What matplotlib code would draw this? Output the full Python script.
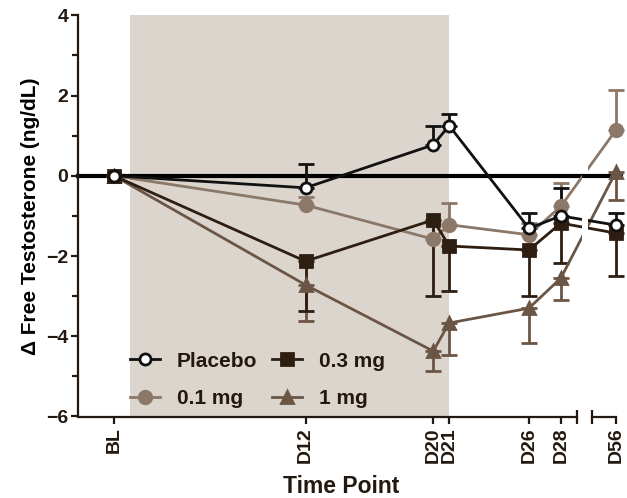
import numpy as np
import matplotlib
matplotlib.use('Agg')
import matplotlib.pyplot as plt
from matplotlib.lines import Line2D

plt.rcParams['font.family'] = ['Liberation Sans', 'DejaVu Sans']
plt.rcParams['font.weight'] = 'bold'
ink = '#22180f'
plt.rcParams['text.color'] = ink
plt.rcParams['axes.edgecolor'] = ink
plt.rcParams['xtick.color'] = ink
plt.rcParams['ytick.color'] = ink

# time points (days) and labels
days = [0, 12, 20, 21, 26, 28, 56]
tick_labels = ['BL', 'D12', 'D20', 'D21', 'D26', 'D28', 'D56']

# mean change from baseline and SEM (one-sided bars as in the original)
placebo = [0, -0.30, 0.77, 1.25, -1.31, -1.00, -1.23]
placebo_err = [0, 0.60, 0.48, 0.30, 0.38, 0.70, 0.30]
dose01 = [0, -0.73, -1.58, -1.22, -1.47, -0.76, 1.14]
dose01_err = [0, 0.20, 0.40, 0.55, 0.30, 0.58, 1.00]
dose03 = [0, -2.13, -1.10, -1.75, -1.85, -1.18, -1.43]
dose03_err = [0, 1.25, 1.90, 1.12, 1.15, 1.00, 1.07]
dose1 = [0, -2.72, -4.37, -3.67, -3.30, -2.55, 0.10]
dose1_err = [0, 0.90, 0.50, 0.80, 0.87, 0.54, 0.70]

# broken x axis: D56 is drawn just after the break
brk_end = 29.0
brk_start = 29.95
d56_pos = 31.45
x_pos = [d if d <= 28 else d56_pos for d in days]

W, H = 627, 498
fig = plt.figure(figsize=(W / 100, H / 100), dpi=100)
ppu = 15.96          # pixels per day
x0_px = 114          # pixel of BL
bottom = (H - 416.5) / H
height = (416.5 - 15.3) / H

xl1 = (-2.26, 29.3)
xl2 = (29.7, 32.2)
ax1 = fig.add_axes([(x0_px + xl1[0] * ppu) / W, bottom, (xl1[1] - xl1[0]) * ppu / W, height])
ax2 = fig.add_axes([(x0_px + xl2[0] * ppu) / W, bottom, (xl2[1] - xl2[0]) * ppu / W, height])
ax2.patch.set_visible(False)

c_plac = '#111111'
c_01 = '#8b7868'
c_03 = '#2e1e12'
c_1 = '#6b5645'

def serie(ax, y, err, up, color, marker, mfc, ms):
    e = np.array(err)
    z = np.zeros_like(e)
    yerr = [z, e] if up else [e, z]
    ax.errorbar(x_pos, y, yerr=yerr, color=color, marker=marker, mfc=mfc, mec=color,
                ms=ms, mew=2, lw=2, elinewidth=2, capsize=6, capthick=2)

for ax in (ax1, ax2):
    serie(ax, dose1, dose1_err, False, c_1, '^', c_1, 9)
    serie(ax, dose01, dose01_err, True, c_01, 'o', c_01, 9)
    serie(ax, dose03, dose03_err, False, c_03, 's', c_03, 9)
    serie(ax, placebo, placebo_err, True, c_plac, 'o', 'white', 8)
    ax.set_ylim(-6, 4)

ax1.set_xlim(*xl1)
ax2.set_xlim(*xl2)

# dosing period shading and zero line
ax1.axvspan(1, 21, color='#dcd5ce', zorder=0, lw=0)
ax1.plot([xl1[0], d56_pos + 0.3], [0, 0], color='black', lw=3, zorder=1.5, clip_on=False)

for s in ('top', 'right'):
    ax1.spines[s].set_visible(False)
for s in ('top', 'right', 'left'):
    ax2.spines[s].set_visible(False)
ax1.spines['bottom'].set_bounds(xl1[0], brk_end)
ax2.spines['bottom'].set_bounds(brk_start, d56_pos)
for ax in (ax1, ax2):
    for s in ax.spines.values():
        s.set_linewidth(1.6)

ax1.set_xticks(x_pos[:6])
ax1.set_xticklabels(tick_labels[:6], rotation=90, fontsize=14)
ax2.set_xticks([d56_pos])
ax2.set_xticklabels(tick_labels[6:], rotation=90, fontsize=14)
ax1.set_xticks([brk_end], minor=True)
ax2.set_xticks([brk_start], minor=True)
for ax in (ax1, ax2):
    ax.tick_params(axis='x', which='major', length=5, width=1.6, pad=3)
    ax.tick_params(axis='x', which='minor', length=10, width=1.6, direction='inout')
ax2.set_yticks([])

ax1.set_yticks(np.arange(-6, 5, 2))
ax1.set_yticks(np.arange(-5, 4, 2), minor=True)
ax1.tick_params(axis='y', which='major', length=5, width=1.6, labelsize=14, pad=2)
ax1.tick_params(axis='y', which='minor', length=4, width=1.6)

ax1.set_ylabel('\u0394 Free Testosterone (ng/dL)', fontsize=15, weight='bold', labelpad=4)
fig.text(341 / W, 1 - 486 / H, 'Time Point', ha='center', va='center', fontsize=16.5, weight='bold')

handles = [
    Line2D([], [], color=c_plac, marker='o', mfc='white', mec=c_plac, ms=8, mew=2, lw=2),
    Line2D([], [], color=c_01, marker='o', mfc=c_01, mec=c_01, ms=9, mew=2, lw=2),
    Line2D([], [], color=c_03, marker='s', mfc=c_03, mec=c_03, ms=9, mew=2, lw=2),
    Line2D([], [], color=c_1, marker='^', mfc=c_1, mec=c_1, ms=9, mew=2, lw=2),
]
names = ['Placebo', '0.1 mg', '0.3 mg', '1 mg']
fig.legend(handles, names, ncol=2, frameon=False, loc='center left',
           bbox_to_anchor=(130 / W, 1 - 380 / H), fontsize=15,
           handlelength=1.45, handletextpad=0.8, columnspacing=0.7,
           labelspacing=0.9, borderpad=0, borderaxespad=0)

fig.savefig('out.png', dpi=100)
